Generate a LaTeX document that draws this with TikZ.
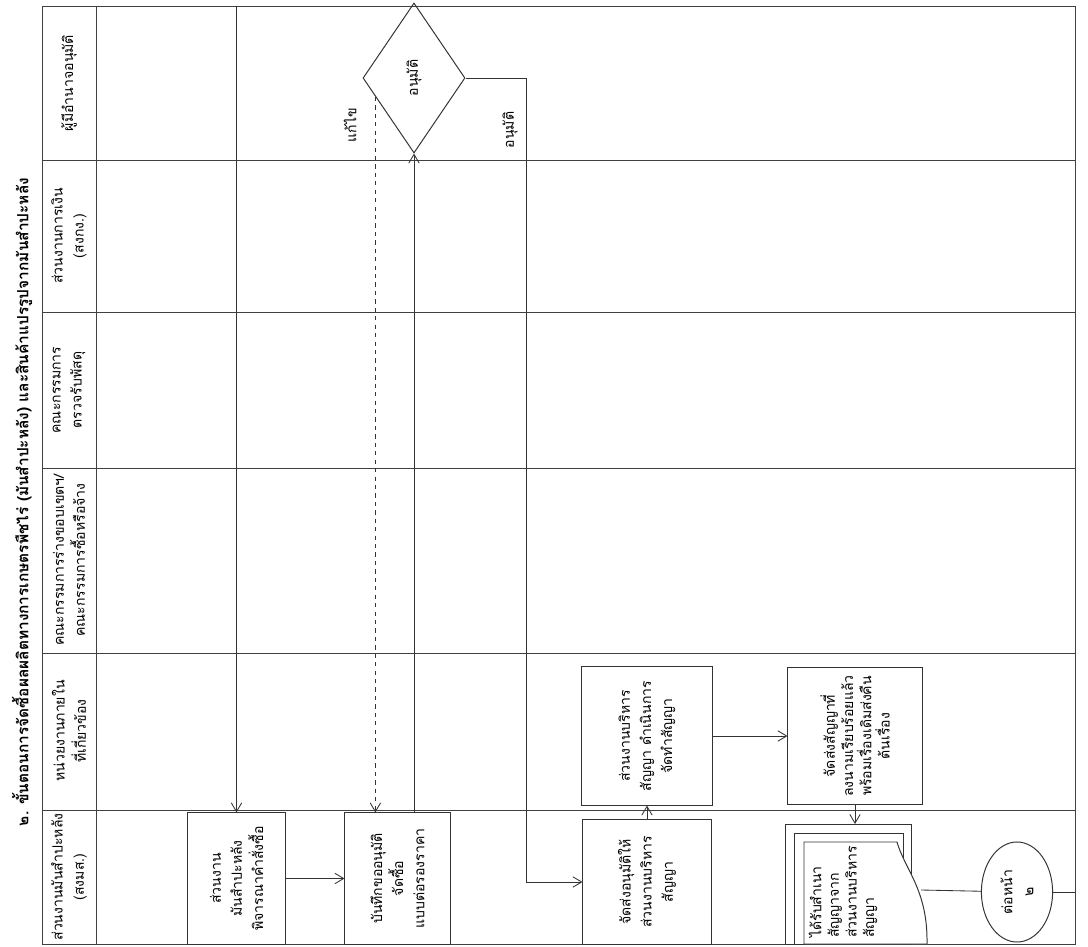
\documentclass[tikz,border=0pt]{standalone}
\usepackage{fontspec}
\setmainfont[Script=Thai]{Loma}
\usetikzlibrary{shapes.geometric, arrows.meta, calc}

\begin{document}
\begin{tikzpicture}[
    x=0.025cm, y=-0.025cm,
    font=\fontsize{10}{15}\selectfont,
    box/.style={rectangle, draw=black!80, line width=0.7pt, rotate=90, align=center, inner sep=2pt},
    lane/.style={rotate=90, align=center},
    laneline/.style={draw=black!75, line width=0.7pt},
    arrow/.style={-{Straight Barb[length=2.2mm, width=2.6mm]}, draw=black!80, line width=0.6pt}
]
    \useasboundingbox (0,0) rectangle (1088,947);

    % Title
    \node[rotate=90, font=\fontsize{11}{13}\selectfont\bfseries] (title) at (22,502)
        {๒. ขั้นตอนการจัดซื้อผลผลิตทางการเกษตรพืชไร่ (มันสำปะหลัง) และสินค้าแปรรูปจากมันสำปะหลัง};

    % Lanes
    \draw[laneline] (42,6) rectangle (1075,944);
    \draw[laneline] (96,6) -- (96,944);
    \foreach \ly in {160, 312, 468, 653, 810}
        \draw[laneline] (42,\ly) -- (1075,\ly);

    \node[lane] (hApprove) at (69,83) {ผู้มีอำนาจอนุมัติ};
    \node[lane] (hFinance) at (69,236) {ส่วนงานการเงิน\\(สงกง.)};
    \node[lane] (hInspect) at (69,390) {คณะกรรมการ\\ตรวจรับพัสดุ};
    \node[lane] (hScope) at (69,560) {คณะกรรมการร่างขอบเขตฯ/\\คณะกรรมการซื้อหรือจ้าง};
    \node[lane] (hUnit) at (69,731) {หน่วยงานภายใน\\ที่เกี่ยวข้อง};
    \node[lane] (hCassava) at (69,877) {ส่วนงานมันสำปะหลัง\\(สงมส.)};

    % Cassava section
    \node[box, minimum width=3.275cm, minimum height=2.425cm] (sel) at (236.5,878.5)
        {ส่วนงาน\\มันสำปะหลัง\\พิจารณาคำสั่งซื้อ};
    \node[box, minimum width=3.275cm, minimum height=2.625cm] (memo) at (397.5,878.5)
        {บันทึกขออนุมัติ\\จัดซื้อ\\แบบต่อรองราคา};
    \node[box, minimum width=3.1cm, minimum height=3.2cm] (send) at (647,882)
        {จัดส่งอนุมัติให้\\ส่วนงานบริหาร\\สัญญา};

    % Contract section
    \node[box, minimum width=3.45cm, minimum height=3.25cm] (draft) at (647,736)
        {ส่วนงานบริหาร\\สัญญา ดำเนินการ\\จัดทำสัญญา};
    \node[box, minimum width=3.425cm, minimum height=3.35cm, font=\fontsize{10}{13}\selectfont] (ret) at (855,736)
        {จัดส่งสัญญาที่\\ลงนามเรียบร้อยแล้ว\\พร้อมเรื่องเดิมส่งคืน\\ต้นเรื่อง};

    % Copy of contract (stacked documents)
    \filldraw[fill=white, draw=black!80, line width=0.7pt] (911,944) -- (785,944) -- (785,824) -- (911,824) -- cycle;
    \filldraw[fill=white, draw=black!80, line width=0.7pt] (903,944) -- (794,944) -- (794,833) -- (903,833) -- cycle;
    \filldraw[fill=white, draw=black!80, line width=0.7pt] (927,944) -- (804,944) -- (804,842) -- (897,842)
        .. controls (905,870) and (928,890) .. (927,944);
    \node[rotate=90, anchor=west, align=left, inner sep=0pt, font=\fontsize{10}{12.5}\selectfont] (doc) at (843,938)
        {ได้รับสำเนา\\สัญญาจาก\\ส่วนงานบริหาร\\สัญญา};
    \coordinate (docTop) at (855,824);
    \coordinate (docR) at (921,890);

    % Connector to next page
    \node[ellipse, draw=black!80, line width=0.7pt, rotate=90, minimum width=2.5cm, minimum height=1.78cm, inner sep=0pt, align=center] (cont) at (1017,892)
        {ต่อหน้า\\๒};
    \coordinate (edge) at (1075,892);

    % Decision
    \node[diamond, draw=black!80, line width=0.7pt, rotate=90, minimum width=3.75cm, minimum height=2.55cm, inner sep=0pt] (dec) at (414,78)
        {อนุมัติ};

    % Arrows
    \coordinate (prev) at (236.5,6);
    \draw[arrow] (prev) -- (sel.east);
    \draw[arrow] (sel) -- (memo);
    \draw[arrow] (dec.west |- memo.east) -- (dec.west);
    \coordinate (fix) at ($(dec.west)!0.75!(dec.north)$);
    \draw[arrow, dashed] (fix) -- (fix |- memo.east);
    \node[rotate=90] (lblFix) at (350,125) {แก้ไข};
    \coordinate (turn) at (526,882);
    \draw[arrow] (dec.south) -| (turn) -- (send.north);
    \node[rotate=90] (lblOk) at (510,130) {อนุมัติ};
    \draw[arrow] (send) -- (draft);
    \draw[arrow] (draft) -- (ret);
    \draw[arrow] (ret) -- (docTop);
    \draw[draw=black!80, line width=0.6pt] (docR) -- (cont);
    \draw[draw=black!80, line width=0.6pt] (cont) -- (edge);
\end{tikzpicture}
\end{document}
